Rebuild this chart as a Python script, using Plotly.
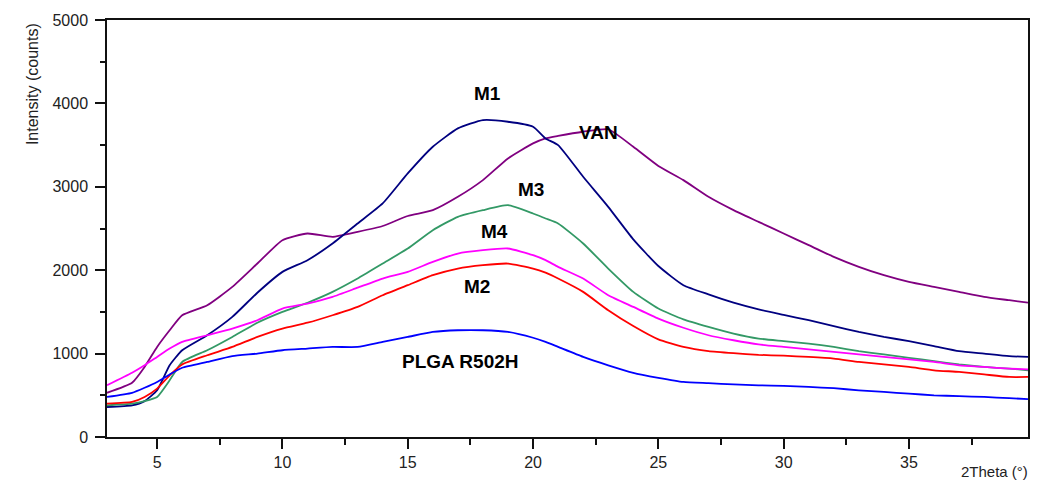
import plotly.graph_objects as go

# 2-theta positions (degrees)
two_theta = [3, 4, 4.5, 5, 5.5, 6, 7, 8, 9, 10, 11, 12, 13, 14, 15, 16, 17, 18, 19, 20,
             20.5, 21, 22, 23, 24, 25, 26, 27, 28, 29, 30, 31, 32, 33, 34, 35, 36, 37,
             38, 39, 39.75]

# Intensity (counts) for each sample
van = [530, 650, 840, 1080, 1280, 1460, 1580, 1800, 2080, 2360, 2440, 2400, 2460, 2530,
       2650, 2720, 2880, 3080, 3340, 3520, 3580, 3610, 3660, 3690, 3480, 3250, 3080,
       2880, 2720, 2580, 2440, 2300, 2160, 2040, 1940, 1860, 1800, 1740, 1680, 1640, 1610]
m1 = [360, 380, 430, 560, 860, 1040, 1220, 1440, 1730, 1980, 2120, 2320, 2560, 2800,
      3160, 3480, 3700, 3800, 3780, 3720, 3580, 3500, 3120, 2760, 2370, 2050, 1820,
      1710, 1610, 1530, 1465, 1400, 1330, 1260, 1200, 1150, 1090, 1030, 1000, 970, 960]
m3 = [380, 400, 430, 480, 680, 900, 1040, 1200, 1370, 1500, 1610, 1740, 1900, 2080,
      2260, 2480, 2640, 2720, 2780, 2680, 2620, 2560, 2320, 2020, 1740, 1540, 1410,
      1320, 1240, 1180, 1150, 1120, 1080, 1030, 990, 950, 910, 870, 840, 820, 800]
m4 = [620, 770, 860, 960, 1060, 1140, 1220, 1300, 1400, 1540, 1600, 1680, 1790, 1900,
      1980, 2100, 2200, 2240, 2260, 2180, 2120, 2040, 1900, 1700, 1560, 1420, 1310,
      1220, 1160, 1110, 1080, 1050, 1020, 990, 960, 930, 900, 860, 840, 820, 810]
m2 = [400, 420, 480, 580, 740, 870, 980, 1080, 1200, 1300, 1370, 1460, 1560, 1700,
      1820, 1940, 2020, 2060, 2080, 2020, 1970, 1900, 1740, 1520, 1330, 1170, 1080,
      1030, 1005, 985, 975, 960, 940, 900, 870, 840, 800, 780, 750, 720, 720]
plga = [480, 530, 590, 660, 750, 830, 900, 970, 1000, 1040, 1060, 1080, 1080, 1140,
        1200, 1260, 1280, 1280, 1260, 1190, 1140, 1080, 960, 860, 770, 710, 660,
        645, 630, 620, 612, 600, 585, 560, 540, 520, 500, 490, 480, 465, 455]

series = [
    ("VAN", van, "#800080"),
    ("M1", m1, "#000080"),
    ("M3", m3, "#339966"),
    ("M4", m4, "#FF00FF"),
    ("M2", m2, "#FF0000"),
    ("PLGA R502H", plga, "#0000FF"),
]

# Label anchors (2-theta, counts)
label_x = [22.6, 18.2, 19.9, 18.45, 17.75, 17.1]
label_y = [3650, 4120, 2970, 2470, 1800, 900]

FONT = "Arial, Liberation Sans, sans-serif"

fig = go.Figure()
for name, vals, color in series:
    fig.add_trace(go.Scatter(
        x=two_theta, y=vals, mode="lines", name=name,
        line=dict(color=color, width=1.8, shape="spline", smoothing=0.5),
        showlegend=False,
    ))

for (name, _, _), lx, ly in zip(series, label_x, label_y):
    fig.add_annotation(x=lx, y=ly, text=f"<b>{name}</b>", showarrow=False,
                       font=dict(family=FONT, size=19, color="black"))

fig.add_annotation(xref="paper", yref="paper", x=-0.093, y=0.997, yanchor="top",
                   text="Intensity (counts)", textangle=-90, showarrow=False,
                   font=dict(family=FONT, size=16, color="#222"))
fig.add_annotation(xref="paper", yref="paper", x=1.002, xanchor="right",
                   y=-0.083, yanchor="middle",
                   text="2Theta (°)", showarrow=False,
                   font=dict(family=FONT, size=15, color="#222"))

fig.update_layout(
    width=1038, height=482,
    margin=dict(l=107, r=8, t=20, b=45),
    paper_bgcolor="white", plot_bgcolor="white",
    font=dict(family=FONT, size=16, color="#222"),
)
fig.update_xaxes(
    range=[3, 39.75], showgrid=False, zeroline=False,
    showline=True, linecolor="#111", linewidth=1.5, mirror=True,
    tickmode="array", tickvals=[5, 10, 15, 20, 25, 30, 35],
    ticks="outside", ticklen=10, tickwidth=1.5, tickcolor="#111",
    minor=dict(tickvals=[7.5, 12.5, 17.5, 22.5, 27.5, 32.5, 37.5],
               ticks="outside", ticklen=6, tickwidth=1.5, tickcolor="#111"),
    tickfont=dict(size=16, color="#222"),
)
fig.update_yaxes(
    range=[0, 5000], showgrid=False, zeroline=False,
    showline=True, linecolor="#111", linewidth=1.5, mirror=True,
    tickvals=[0, 1000, 2000, 3000, 4000, 5000],
    ticks="outside", ticklen=10, tickwidth=1.5, tickcolor="#111",
    minor=dict(tickvals=[500, 1500, 2500, 3500, 4500],
               ticks="outside", ticklen=5, tickwidth=1.5, tickcolor="#111"),
    tickfont=dict(size=16, color="#222"), ticklabelstandoff=4,
)

fig.write_html("out.html")
